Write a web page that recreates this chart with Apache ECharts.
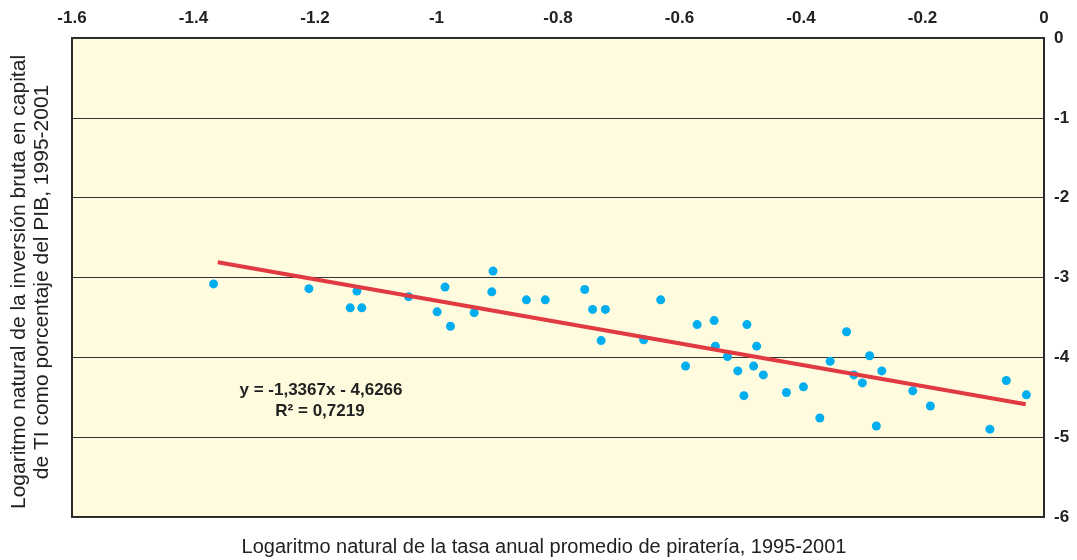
<!DOCTYPE html>
<html>
<head>
<meta charset="utf-8">
<script src="https://cdn.jsdelivr.net/npm/echarts@6/dist/echarts.min.js"></script>
<style>
  html, body { margin: 0; padding: 0; background: #fff; }
  #chart { width: 1077px; height: 560px; }
</style>
</head>
<body>
<div id="chart"></div>
<script>
// piracy rate (ln) vs IT investment (ln), one point per country
const piracyLn = [
  -1.367, -1.210, -1.131, -1.142, -1.123, -1.046, -0.999, -0.986, -0.977, -0.938,
  -0.907, -0.909, -0.852, -0.821, -0.756, -0.743, -0.722, -0.729, -0.659, -0.631,
  -0.590, -0.571, -0.543, -0.541, -0.521, -0.504, -0.494, -0.489, -0.478, -0.473,
  -0.462, -0.424, -0.396, -0.369, -0.352, -0.325, -0.313, -0.299, -0.287, -0.276,
  -0.267, -0.216, -0.187, -0.089, -0.062, -0.029
]
const investLn = [
  -3.08, -3.14, -3.17, -3.38, -3.38, -3.24, -3.43, -3.12, -3.61, -3.44,
  -2.92, -3.18, -3.28, -3.28, -3.15, -3.40, -3.40, -3.79, -3.78, -3.28,
  -4.11, -3.59, -3.54, -3.86, -3.99, -4.17, -4.48, -3.59, -4.11, -3.86,
  -4.22, -4.44, -4.37, -4.76, -4.05, -3.68, -4.22, -4.32, -3.98, -4.86,
  -4.17, -4.42, -4.61, -4.90, -4.29, -4.47
]

// fitted line shown on the chart
const slope = -1.3367
const intercept = -4.6266
const trendRange = [-1.36, -0.03]

const xTicks = { min: -1.6, max: 0, interval: 0.2 }
const yTicks = { min: -6, max: 0, interval: 1 }

const eqLines = ['y = -1,3367x - 4,6266', 'R² = 0,7219']
const xTitle = 'Logaritmo natural de la tasa anual promedio de piratería, 1995-2001'
const yTitle = 'Logaritmo natural de la inversión bruta en capital\nde TI como porcentaje del PIB, 1995-2001'

const font = '"Liberation Sans", Arial, sans-serif'

const chart = echarts.init(document.getElementById('chart'))

const fmt = (v) => String(Math.round(v * 10) / 10)

chart.setOption({
  animation: false,
  grid: {
    left: 72, right: 33, top: 38, bottom: 43,
    show: true,
    backgroundColor: '#fffbdf',
    borderColor: '#2a2a2a',
    borderWidth: 2,
  },
  xAxis: {
    type: 'value',
    position: 'top',
    min: xTicks.min, max: xTicks.max, interval: xTicks.interval,
    axisLine: { show: false },
    axisTick: { show: false },
    splitLine: { show: false },
    axisLabel: {
      formatter: fmt, color: '#222', fontFamily: font,
      fontWeight: 'bold', fontSize: 17, margin: 11,
    },
  },
  yAxis: {
    type: 'value',
    position: 'right',
    min: yTicks.min, max: yTicks.max, interval: yTicks.interval,
    axisLine: { show: false },
    axisTick: { show: false },
    splitLine: { lineStyle: { color: '#333', width: 1 } },
    axisLabel: {
      formatter: fmt, color: '#222', fontFamily: font,
      fontWeight: 'bold', fontSize: 17, margin: 10,
    },
  },
  series: [
    {
      type: 'scatter',
      data: piracyLn.map((x, i) => [x, investLn[i]]),
      symbolSize: 9,
      itemStyle: { color: '#00aeef', opacity: 1 },
      z: 3,
    },
    {
      type: 'line',
      data: trendRange.map((x) => [x, slope * x + intercept]),
      showSymbol: false,
      lineStyle: { color: '#e23a41', width: 4 },
      z: 4,
    },
  ],
  graphic: [
    {
      type: 'text',
      style: {
        x: 321, y: 390, text: eqLines[0], textAlign: 'center', textVerticalAlign: 'middle',
        font: 'bold 17px ' + font, fill: '#222',
      },
    },
    {
      type: 'text',
      style: {
        x: 320, y: 411, text: eqLines[1], textAlign: 'center', textVerticalAlign: 'middle',
        font: 'bold 17px ' + font, fill: '#222',
      },
    },
    {
      type: 'text',
      style: {
        x: 544, y: 547, text: xTitle, textAlign: 'center', textVerticalAlign: 'middle',
        font: '20px ' + font, fill: '#222',
      },
    },
    {
      type: 'text',
      x: 31, y: 282, rotation: Math.PI / 2,
      style: {
        x: 0, y: 0, text: yTitle, textAlign: 'center', textVerticalAlign: 'middle',
        font: '21px ' + font, fill: '#222', lineHeight: 23,
      },
    },
  ],
})
</script>
</body>
</html>
